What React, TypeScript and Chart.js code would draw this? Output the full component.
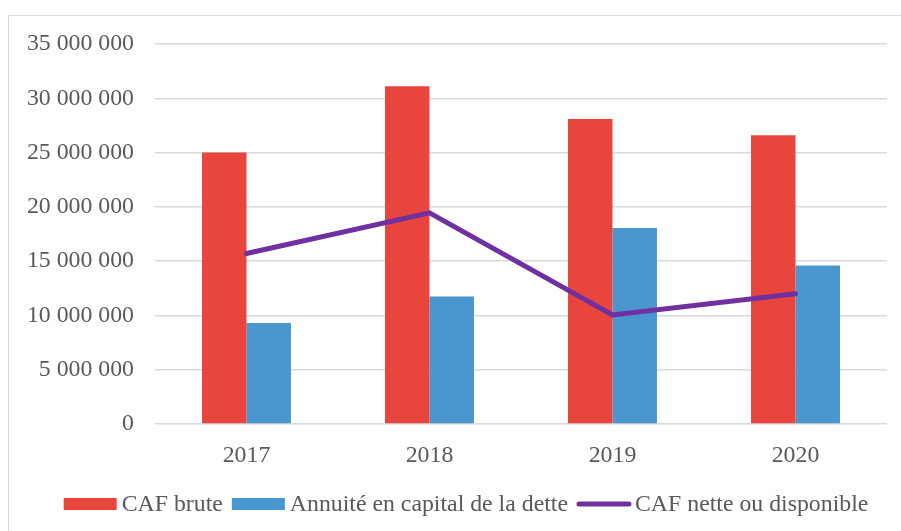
import React, { useEffect, useRef } from "react";
import { Chart, registerables } from "chart.js";

Chart.register(...registerables);

const categories = ["2017", "2018", "2019", "2020"];
const cafBrute = [25000000, 31100000, 28100000, 26600000];
const annuiteCapital = [9300000, 11750000, 18050000, 14600000];
const cafNette = [15700000, 19450000, 10050000, 12000000];
const seriesLabels = ["CAF brute", "Annuité en capital de la dette", "CAF nette ou disponible"];
const yMin = 0;
const yMax = 35000000;
const yStep = 5000000;

const FONT = "'Liberation Serif', 'Times New Roman', serif";
const FONT_SIZE = 23.8;
const TEXT = "#595959";
const RED = "#E8453C";
const BLUE = "#4A96CE";
const PURPLE = "#7030A0";

const fmt = (v: number) => String(Math.round(v)).replace(/\B(?=(\d{3})+(?!\d))/g, " ");

// Legend drawn in the style of the original (box, small gap, label)
const bottomLegend = {
  id: "bottomLegend",
  afterDraw(chart: any) {
    const ctx = chart.ctx as CanvasRenderingContext2D;
    const ds = chart.data.datasets as any[];
    const boxW = 53;
    const boxH = 12;
    const gapText = 5;
    const gapItem = 9;
    ctx.save();
    ctx.font = `${FONT_SIZE}px ${FONT}`;
    ctx.textBaseline = "middle";
    ctx.textAlign = "left";
    const widths = ds.map((d) => ctx.measureText(d.label).width);
    const total = widths.reduce((a, w) => a + boxW + gapText + w, 0) + gapItem * (ds.length - 1);
    let x = chart.width / 2 + 11 - total / 2;
    const y = chart.height - 27;
    ds.forEach((d, i) => {
      if (d.type === "line") {
        ctx.strokeStyle = d.borderColor;
        ctx.lineWidth = 5;
        ctx.lineCap = "round";
        ctx.beginPath();
        ctx.moveTo(x + 2, y);
        ctx.lineTo(x + boxW - 1, y);
        ctx.stroke();
      } else {
        ctx.fillStyle = d.backgroundColor;
        ctx.fillRect(x, y - boxH / 2, boxW, boxH);
      }
      ctx.fillStyle = TEXT;
      ctx.fillText(d.label, x + boxW + gapText, y + 1);
      x += boxW + gapText + widths[i] + gapItem;
    });
    ctx.restore();
  },
};

export default function App() {
  const ref = useRef<HTMLCanvasElement | null>(null);
  useEffect(() => {
    if (!ref.current) return;
    const chart = new Chart(ref.current, {
      type: "bar",
      data: {
        labels: categories,
        datasets: [
          {
            type: "bar",
            label: seriesLabels[0],
            data: cafBrute,
            backgroundColor: RED,
            borderWidth: 0,
            order: 1,
          } as any,
          {
            type: "bar",
            label: seriesLabels[1],
            data: annuiteCapital,
            backgroundColor: BLUE,
            borderWidth: 0,
            order: 1,
          } as any,
          {
            type: "line",
            label: seriesLabels[2],
            data: cafNette,
            borderColor: PURPLE,
            backgroundColor: PURPLE,
            borderWidth: 5,
            borderCapStyle: "round",
            pointRadius: 0,
            pointHoverRadius: 0,
            order: 0,
          } as any,
        ],
      },
      options: {
        responsive: true,
        maintainAspectRatio: false,
        animation: false,
        layout: { padding: { top: 28, right: 14, bottom: 62, left: 0 } },
        datasets: {
          bar: { categoryPercentage: 0.486, barPercentage: 1 },
        } as any,
        scales: {
          x: {
            grid: { display: false },
            border: { display: false },
            ticks: { color: TEXT, font: { family: FONT, size: FONT_SIZE }, padding: 9 },
            afterFit: (s: any) => {
              s.height = 45;
            },
          },
          y: {
            min: yMin,
            max: yMax,
            ticks: {
              stepSize: yStep,
              color: TEXT,
              font: { family: FONT, size: FONT_SIZE },
              padding: 21,
              callback: (v: any) => fmt(Number(v)),
            },
            grid: { color: "#d9d9d9", lineWidth: 1.5, drawTicks: false },
            border: { display: false },
            afterFit: (s: any) => {
              s.width = 146;
              s.paddingTop = 14;
              s.paddingBottom = 14;
            },
          },
        },
        plugins: {
          tooltip: { enabled: false },
          legend: { display: false },
        },
      },
      plugins: [bottomLegend],
    });
    return () => chart.destroy();
  }, []);
  return (
    <div
      style={{
        position: "fixed",
        left: 8,
        top: 15,
        width: 893,
        height: 516,
        borderTop: "1px solid #d9d9d9",
        borderLeft: "1px solid #d9d9d9",
        boxSizing: "border-box",
        background: "#fff",
      }}
    >
      <div style={{ position: "relative", width: 892, height: 515 }}>
        <canvas ref={ref} />
      </div>
    </div>
  );
}
